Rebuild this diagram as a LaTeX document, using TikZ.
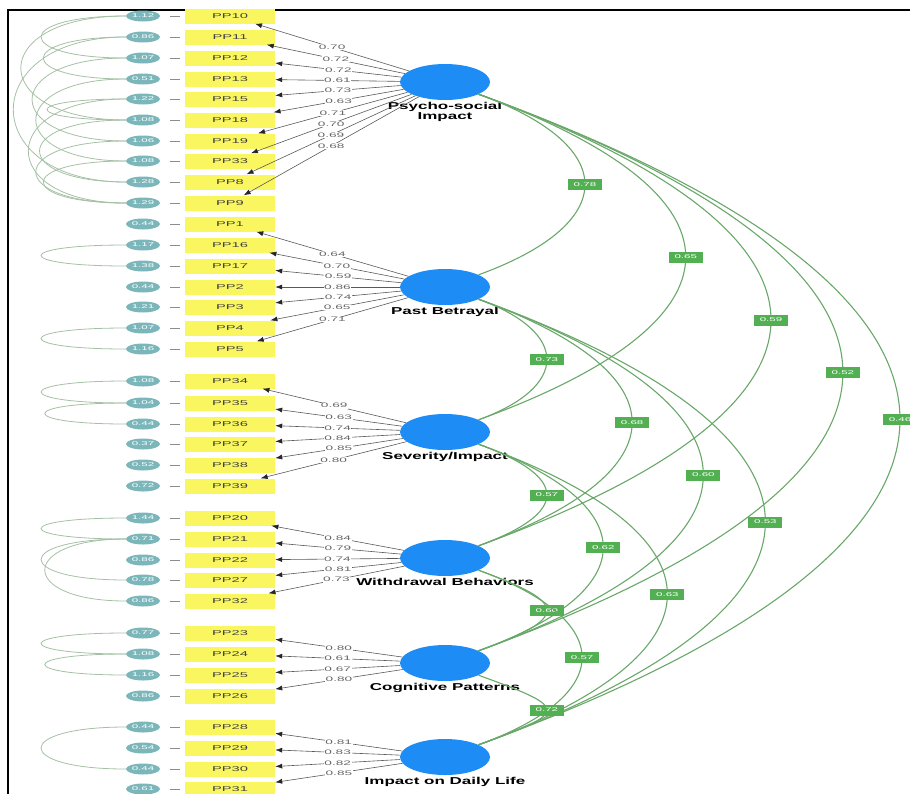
\documentclass[tikz,border=0pt]{standalone}
\usepackage{fontspec}
\setmainfont{Liberation Sans}
\newfontfamily\widefont[FakeStretch=2.1]{Liberation Sans}
\newfontfamily\latfont[FakeStretch=1.7]{Liberation Sans}
\usetikzlibrary{positioning,arrows.meta,shapes.geometric}
\definecolor{indyellow}{RGB}{250,246,95}
\definecolor{errteal}{RGB}{122,182,186}
\definecolor{latblue}{RGB}{30,140,245}
\definecolor{covgreen}{RGB}{105,168,105}
\definecolor{lblgreen}{RGB}{82,176,82}
\definecolor{ecovgray}{RGB}{165,192,165}

\begin{document}
\begin{tikzpicture}[
    x=1pt, y=-1pt,
    ind/.style={%
      rectangle, fill=indyellow, minimum width=90pt, minimum height=15pt,
      inner sep=0pt, text=black!75, font=\widefont\fontsize{7}{8}\selectfont,
    },
    err/.style={%
      ellipse, fill=errteal, minimum width=34pt, minimum height=11pt,
      inner sep=0pt, text=white, font=\widefont\fontsize{5.5}{6}\selectfont,
    },
    lat/.style={%
      ellipse, fill=latblue, minimum width=90pt, minimum height=36pt,
    },
    latlbl/.style={%
      align=center, inner sep=0pt, font=\latfont\bfseries\fontsize{10}{10}\selectfont,
    },
    load/.style={draw=black!65, line width=0.6pt, -{Latex[length=7pt,width=5pt,color=black!85]}},
    ldval/.style={%
      pos=0.5, fill=white, inner sep=0.6pt, text=black!60,
      font=\widefont\fontsize{6.5}{7}\selectfont,
    },
    earr/.style={draw=black!45, line width=0.6pt, shorten <=10pt, shorten >=5pt},
    ecov/.style={draw=ecovgray, line width=0.8pt},
    lcov/.style={draw=covgreen, line width=1.1pt},
    cval/.style={%
      pos=0.5, fill=lblgreen, text=white, minimum width=34pt, minimum height=11pt,
      inner sep=0pt, font=\widefont\fontsize{5.5}{6}\selectfont,
    },
  ]

    \useasboundingbox (0,0) rectangle (910,793);
    \draw [line width=1.4pt] (8,10) rectangle (940,830);

    % latent factors
    \node [lat] (PI) at (445,82) {};
    \node [lat] (PB) at (445,287) {};
    \node [lat] (SI) at (445,432) {};
    \node [lat] (WB) at (445,558) {};
    \node [lat] (CP) at (445,663) {};
    \node [lat] (DL) at (445,757) {};
    \node [latlbl, below=2pt of PI] (PIl) {Psycho-social\\Impact};
    \node [latlbl, below=2pt of PB] (PBl) {Past Betrayal};
    \node [latlbl, below=2pt of SI] (SIl) {Severity/Impact};
    \node [latlbl, below=2pt of WB] (WBl) {Withdrawal Behaviors};
    \node [latlbl, below=2pt of CP] (CPl) {Cognitive Patterns};
    \node [latlbl, below=2pt of DL] (DLl) {Impact on Daily Life};

    % items and their error terms
    \foreach \n/\y/\v in {10/16/1.12, 11/37/0.86, 12/58/1.07, 13/79/0.51,
        15/99/1.22, 18/120/1.08, 19/141/1.06, 33/161/1.08, 8/182/1.28, 9/203/1.29,
        1/224/0.44, 16/245/1.17, 17/266/1.38, 2/287/0.44, 3/307/1.21, 4/328/1.07,
        5/349/1.16, 34/381/1.08, 35/403/1.04, 36/424/0.44, 37/444/0.37,
        38/465/0.52, 39/486/0.72, 20/518/1.44, 21/539/0.71, 22/560/0.86,
        27/580/0.78, 32/601/0.86, 23/633/0.77, 24/654/1.08, 25/675/1.16,
        26/696/0.86, 28/727/0.44, 29/748/0.54, 30/769/0.44, 31/789/0.61}{
      \node [ind] (PP\n) at (230,\y) {PP\n};
      \node [err] (e\n) at (143,\y) {\v};
      \draw [earr] (e\n) -- (PP\n);
    }

    % loadings
    \foreach \n/\l in {10/0.70, 11/0.72, 12/0.72, 13/0.61, 15/0.73, 18/0.63,
        19/0.71, 33/0.70, 8/0.69, 9/0.68}
      \draw [load] (PI) -- (PP\n) node [ldval] {\l};
    \foreach \n/\l in {1/0.64, 16/0.70, 17/0.59, 2/0.86, 3/0.74, 4/0.65, 5/0.71}
      \draw [load] (PB) -- (PP\n) node [ldval] {\l};
    \foreach \n/\l in {34/0.69, 35/0.63, 36/0.74, 37/0.84, 38/0.85, 39/0.80}
      \draw [load] (SI) -- (PP\n) node [ldval] {\l};
    \foreach \n/\l in {20/0.84, 21/0.79, 22/0.74, 27/0.81, 32/0.73}
      \draw [load] (WB) -- (PP\n) node [ldval] {\l};
    \foreach \n/\l in {23/0.80, 24/0.61, 25/0.67, 26/0.80}
      \draw [load] (CP) -- (PP\n) node [ldval] {\l};
    \foreach \n/\l in {28/0.81, 29/0.83, 30/0.82, 31/0.85}
      \draw [load] (DL) -- (PP\n) node [ldval] {\l};

    % error covariances
    \foreach \a/\b/\d in {10/12/113, 10/18/140, 11/8/150, 11/13/110, 12/19/125,
        13/33/120, 15/18/105, 15/9/130, 18/8/115, 19/9/120, 33/9/110,
        16/17/113, 4/5/113, 34/35/113, 35/36/108, 20/21/113, 21/27/113,
        21/32/108, 23/24/113, 24/25/108, 28/30/113}
      \draw [ecov] (e\a) to [out=180, in=180, distance=\d] (e\b);

    % factor covariances
    \draw [lcov] (PI) to [out=-20, in=20, distance=151] node [cval] {0.78} (PB);
    \draw [lcov] (PI) to [out=-20, in=20, distance=294] node [cval] {0.65} (SI);
    \draw [lcov] (PI) to [out=-20, in=20, distance=415] node [cval] {0.59} (WB);
    \draw [lcov] (PI) to [out=-20, in=20, distance=517] node [cval] {0.52} (CP);
    \draw [lcov] (PI) to [out=-20, in=20, distance=598] node [cval] {0.46} (DL);
    \draw [lcov] (PB) to [out=-20, in=20, distance=97] node [cval] {0.73} (SI);
    \draw [lcov] (PB) to [out=-20, in=20, distance=218] node [cval] {0.68} (WB);
    \draw [lcov] (PB) to [out=-20, in=20, distance=319] node [cval] {0.60} (CP);
    \draw [lcov] (PB) to [out=-20, in=20, distance=407] node [cval] {0.53} (DL);
    \draw [lcov] (SI) to [out=-20, in=20, distance=97] node [cval] {0.57} (WB);
    \draw [lcov] (SI) to [out=-20, in=20, distance=177] node [cval] {0.62} (CP);
    \draw [lcov] (SI) to [out=-20, in=20, distance=268] node [cval] {0.63} (DL);
    \draw [lcov] (WB) to [out=-20, in=20, distance=97] node [cval] {0.60} (CP);
    \draw [lcov] (WB) to [out=-20, in=20, distance=147] node [cval] {0.57} (DL);
    \draw [lcov] (CP) to [out=-20, in=20, distance=97] node [cval] {0.72} (DL);

\end{tikzpicture}
\end{document}
